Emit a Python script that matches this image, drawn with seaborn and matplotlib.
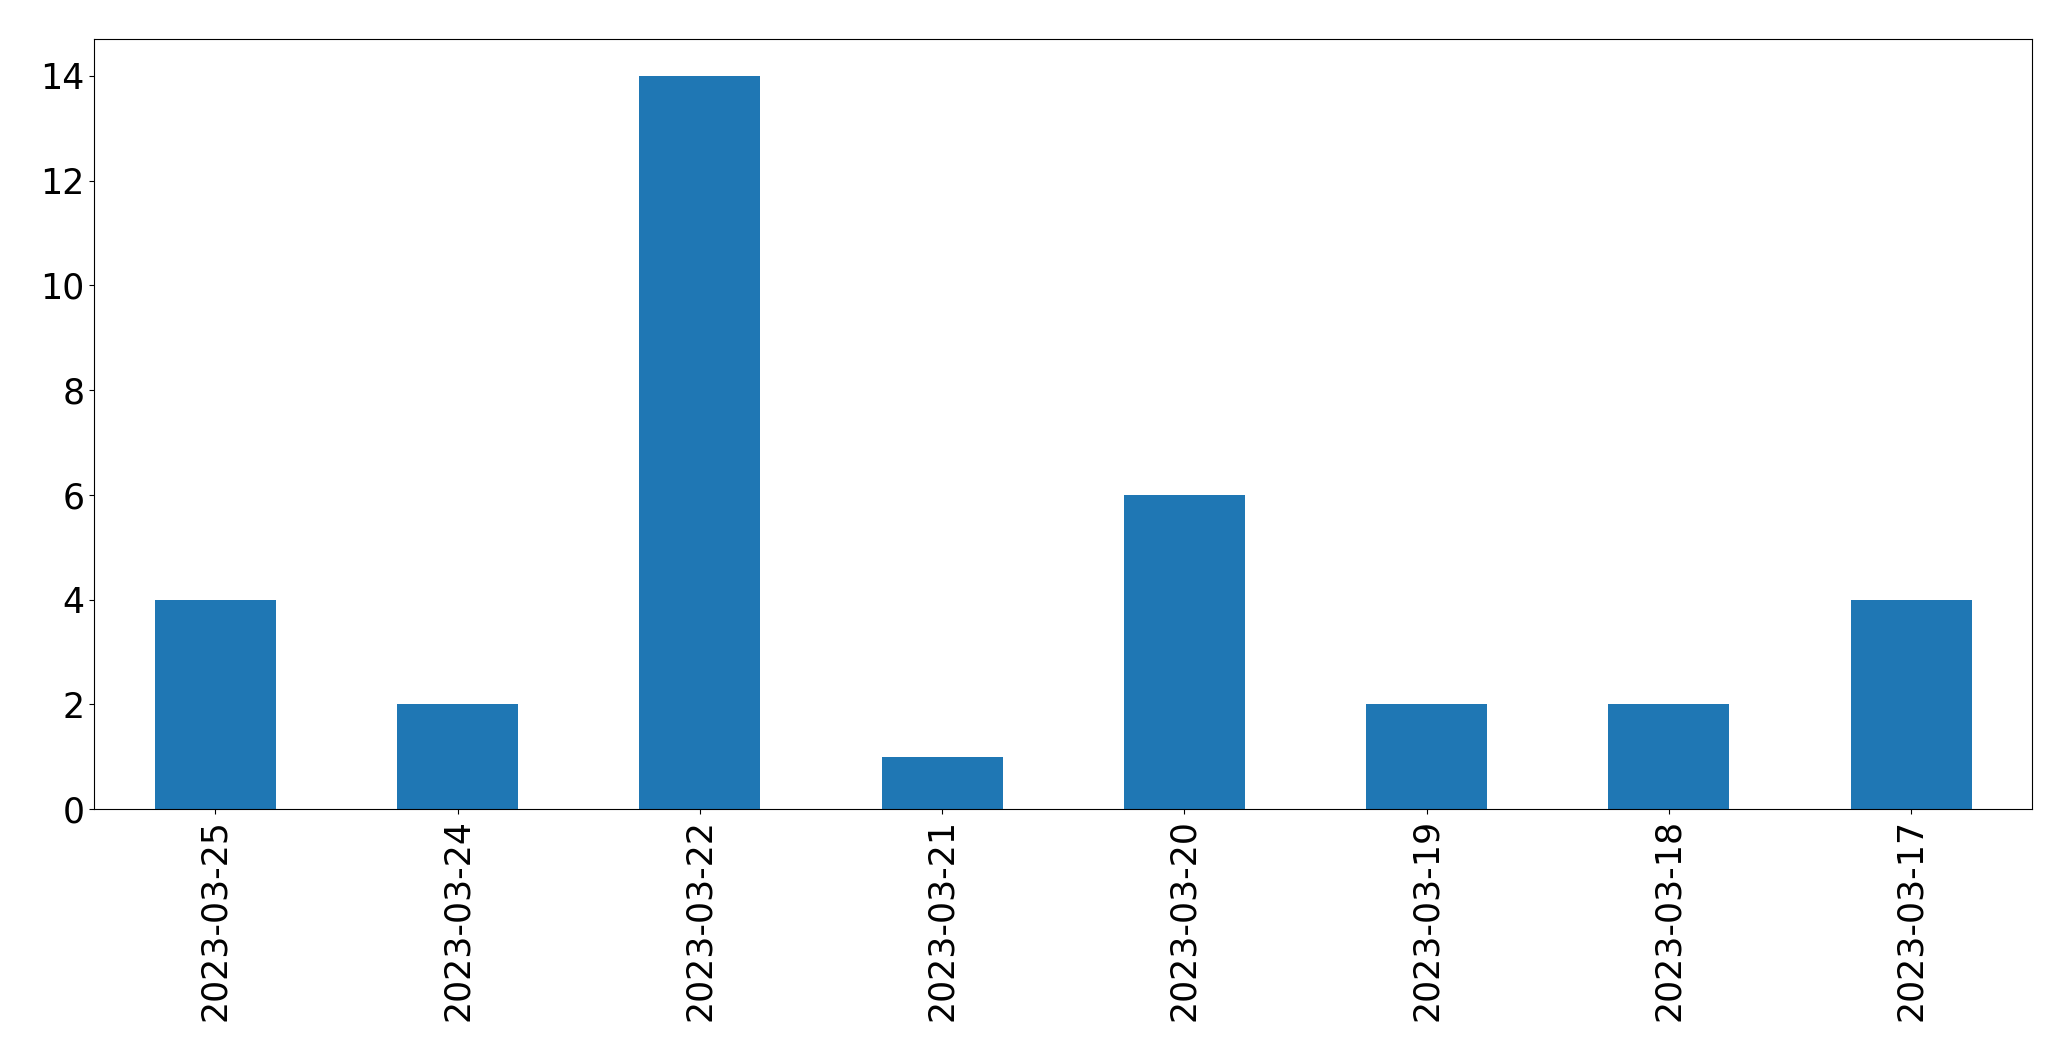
import matplotlib
matplotlib.use("Agg")
import matplotlib.pyplot as plt
import seaborn as sns
import pandas as pd

dates = ["2023-03-25", "2023-03-24", "2023-03-22", "2023-03-21",
         "2023-03-20", "2023-03-19", "2023-03-18", "2023-03-17"]
counts = [4, 2, 14, 1, 6, 2, 2, 4]

df = pd.DataFrame({"date": dates, "count": counts})

fig, ax = plt.subplots(figsize=(20.71, 10.61), dpi=100)
sns.barplot(data=df, x="date", y="count", order=dates, color="#1f77b4",
            saturation=1, width=0.5, ax=ax)

ax.set_xlim(-0.5, len(dates) - 0.5)
ax.set_ylim(0, max(counts) * 1.05)
ax.set_xlabel("")
ax.set_ylabel("")
ax.tick_params(axis="both", labelsize=25)
ax.tick_params(axis="x", labelrotation=90)

fig.subplots_adjust(left=0.0455, right=0.9813, top=0.963, bottom=0.2375)
fig.savefig("out.png", dpi=100)
plt.close(fig)
